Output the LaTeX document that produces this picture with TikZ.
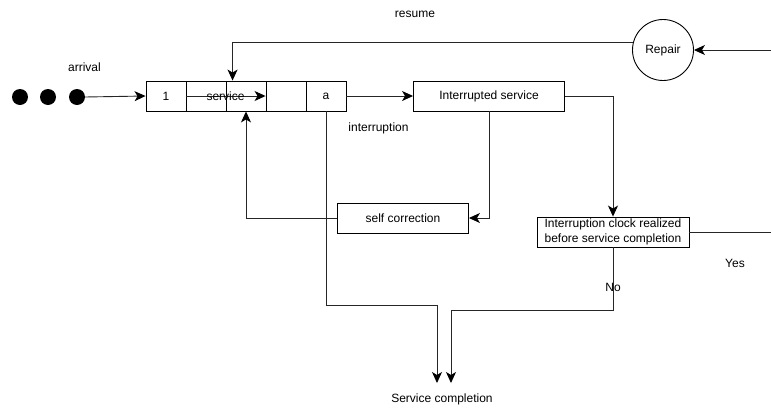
\documentclass[tikz,border=0pt]{standalone}
\usepackage{fontspec}
\setmainfont{Liberation Sans}
\usetikzlibrary{arrows.meta,positioning}
\begin{document}
\begin{tikzpicture}[x=1pt,y=-1pt,
  font=\fontsize{12}{14.5}\selectfont,
  line/.style={draw=black!85,line width=0.9pt},
  arr/.style={line,-{Stealth[length=11pt,width=10pt,inset=3pt,color=black]}},
  cell/.style={draw,line width=0.9pt,minimum width=40pt,minimum height=30pt,inner sep=0pt},
  procbox/.style={draw,line width=0.9pt,inner sep=0pt,align=center},
  dot/.style={circle,fill=black,minimum size=16pt,inner sep=0pt},
  lbl/.style={inner sep=0pt}]
\useasboundingbox (0,0) rectangle (771,410);

% waiting customers
\node[dot] (d1) at (20,97) {};
\node[dot] (d2) at (48,97) {};
\node[dot] (d3) at (77,97) {};

% queue cells
\node[cell] (q1) at (166,96) {1};
\node[cell] (q2) at (206,96) {};
\node[cell] (q3) at (246,96) {};
\node[cell] (q4) at (286,96) {};
\node[cell] (q5) at (326,96) {a};

% processing boxes
\node[procbox,minimum width=151pt,minimum height=30pt] (is) at (489,96) {Interrupted service};
\node[procbox,minimum width=131pt,minimum height=30pt] (sc) at (403,218) {self correction};
\node[procbox,minimum width=152pt,minimum height=30pt] (ic) at (613,232)
  {Interruption clock realized\\before service completion};
\node[circle,draw,line width=0.9pt,minimum size=61pt,inner sep=0pt] (repair) at (663,50) {Repair};

% free ends
\coordinate (rin) at (771,50);
\coordinate (yesend) at (771,232);
\coordinate (k1) at (437,305);
\coordinate (k2) at (451,310);
\coordinate (c1) at (437,383);
\coordinate (c2) at (451,383);

% labels
\node[lbl] at (84.5,67) {arrival};
\node[lbl] at (415,14) {resume};
\node[lbl] at (378.5,128) {interruption};
\node[lbl] at (735,263) {Yes};
\node[lbl] at (613,287) {No};
\node[lbl] at (442,399) {Service completion};

% connectors
\draw[arr] (d3.east) -- (q1.west);
\draw[arr] (q2.west) -- node[lbl] {service} (q4.west);
\draw[arr] (repair.165) -| ([xshift=7pt]q3.north west);
\draw[arr] (rin) -- (repair.east);
\draw[arr] (q5.east) -- (is.west);
\draw[arr] (is.east) -| (ic.north);
\draw[arr] (is.south) |- (sc.east);
\draw[arr] (sc.west) -| (q3.south);
\draw[arr] (q5.south) |- (k1) -- (c1);
\draw[arr] (ic.south) |- (k2) -- (c2);
\draw[line] (ic.east) -- (yesend);
\end{tikzpicture}
\end{document}
